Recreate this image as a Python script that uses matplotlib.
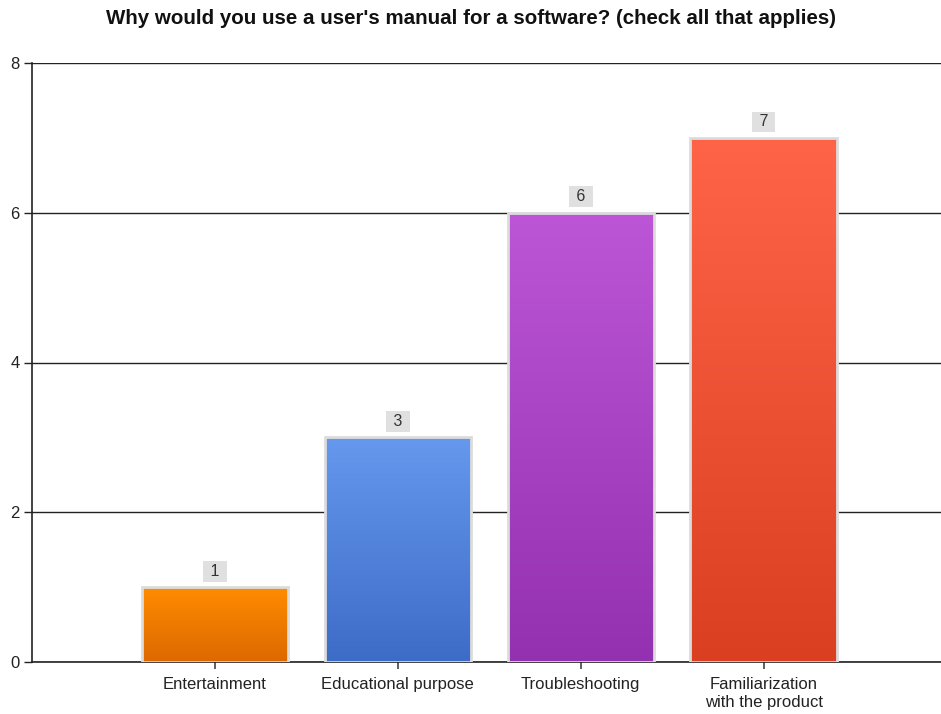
import matplotlib
matplotlib.use("Agg")
import matplotlib.pyplot as plt
import numpy as np
from matplotlib.colors import LinearSegmentedColormap

plt.rcParams['font.family'] = ['Liberation Sans', 'DejaVu Sans']

title = "Why would you use a user's manual for a software? (check all that applies)"
categories = ["Entertainment", "Educational purpose", "Troubleshooting", "Familiarization\nwith the product"]
values = [1, 3, 6, 7]
top_colors = ["#FF8C00", "#6698EE", "#BC56D6", "#FF6448"]
bottom_colors = ["#DD6800", "#3D6CC6", "#9431B0", "#DA3F22"]
yticks = [0, 2, 4, 6, 8]

fig = plt.figure(figsize=(9.41, 7.14), dpi=100)
ax = fig.add_axes([32/941, 52/714, 1 - 32/941, (662-63)/714])

x = np.arange(1, len(values) + 1)
width = 0.8
ax.set_xlim(0, 4.97)
ax.set_ylim(0, 8)

for xi, v, tc, bc in zip(x, values, top_colors, bottom_colors):
    bar = ax.bar(xi, v, width=width, color='none', edgecolor='#DCDCDC', linewidth=2, zorder=3)[0]
    cmap = LinearSegmentedColormap.from_list('g', [bc, tc])
    grad = np.linspace(0, 1, 256).reshape(-1, 1)
    im = ax.imshow(grad, cmap=cmap, origin='lower', aspect='auto',
                   extent=(xi - width/2, xi + width/2, 0, v), zorder=2)
    im.set_clip_path(bar)
    ax.annotate(" " + str(v) + " ", xy=(xi, v), xytext=(0, 11.5), textcoords='offset points',
                ha='center', va='center', fontsize=11.5, color='#333333',
                bbox=dict(boxstyle='square,pad=0.18', fc='#E0E0E0', ec='none'), zorder=4)

ax.set_xlim(0, 4.97)
ax.set_ylim(0, 8)
ax.set_yticks(yticks)
ax.set_xticks(x)
ax.set_xticklabels(categories, fontsize=12, color='#222222', linespacing=1.25)
ax.tick_params(axis='y', labelsize=12, colors='#222222', length=6, width=1, pad=3)
ax.tick_params(axis='x', length=5, width=1.2, colors='#444444', labelcolor='#222222', pad=5.5)
ax.yaxis.grid(True, color='#222222', linewidth=1)
ax.set_axisbelow(True)
for s in ['top', 'right']:
    ax.spines[s].set_visible(False)
ax.spines['left'].set_color('#222222')
ax.spines['bottom'].set_color('#222222')
ax.spines['left'].set_linewidth(1.2)
ax.spines['bottom'].set_linewidth(1.2)

fig.text(0.5, 1 - 18/714, title, ha='center', va='center', fontsize=14.8, fontweight='bold', color='#111111')

fig.savefig('out.png', dpi=100)
